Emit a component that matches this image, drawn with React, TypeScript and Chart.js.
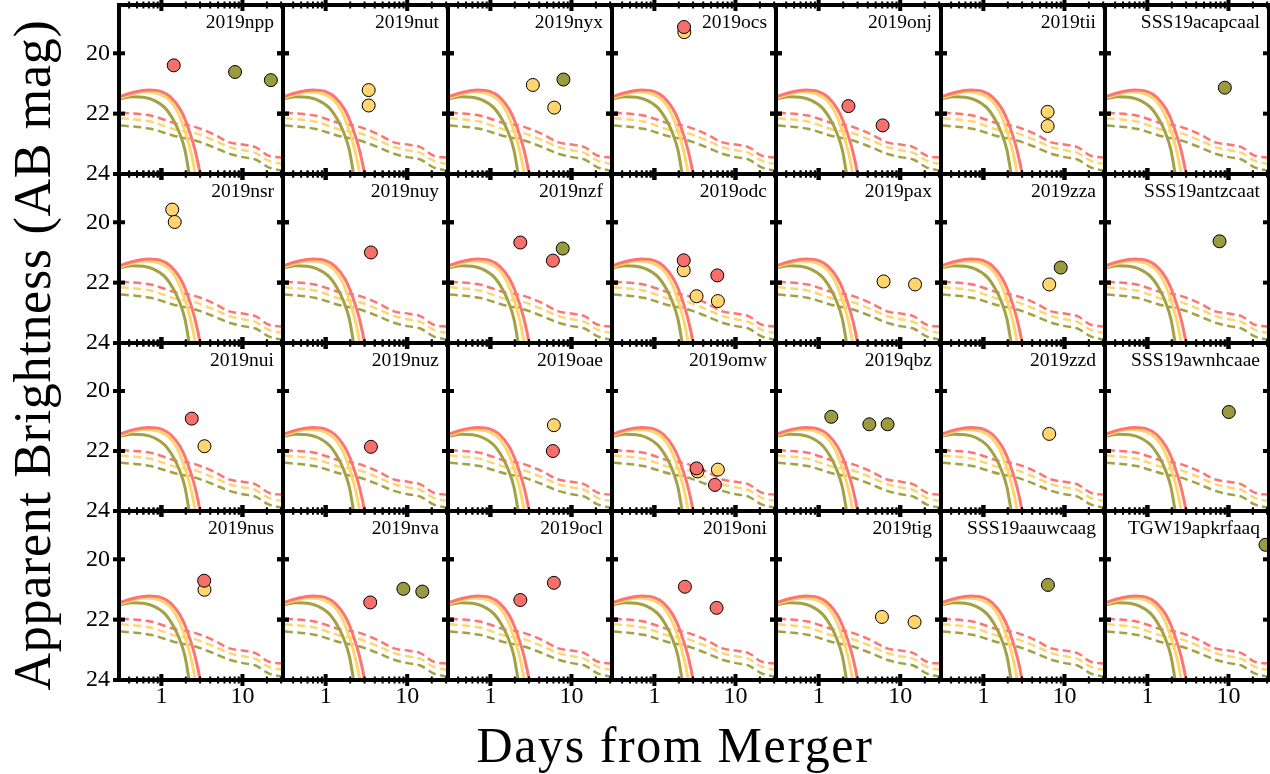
import React, { useEffect, useRef } from 'react';
import { Chart, registerables } from 'chart.js';

Chart.register(...registerables);

// Panel names, row by row
const NAMES = [
  '2019npp', '2019nut', '2019nyx', '2019ocs', '2019onj', '2019tii', 'SSS19acapcaal',
  '2019nsr', '2019nuy', '2019nzf', '2019odc', '2019pax', '2019zza', 'SSS19antzcaat',
  '2019nui', '2019nuz', '2019oae', '2019omw', '2019qbz', '2019zzd', 'SSS19awnhcaae',
  '2019nus', '2019nva', '2019ocl', '2019oni', '2019tig', 'SSS19aauwcaag', 'TGW19apkrfaaq',
];

// Detections per panel (days from merger, AB mag)
const RED_DAYS = [
  [1.42], [], [], [2.32], [2.32, 6.08], [], [],
  [], [3.59], [2.34, 5.9], [2.3, 5.97], [], [], [],
  [2.37], [3.59], [5.9], [3.31, 5.58], [], [], [],
  [3.37], [3.52], [2.34, 6.07], [2.38, 5.85], [], [], [],
];
const RED_MAGS = [
  [20.4], [], [], [19.13], [21.75, 22.39], [], [],
  [], [21.0], [20.67, 21.27], [21.26, 21.76], [], [], [],
  [20.92], [21.86], [22.0], [22.58, 23.13], [], [], [],
  [20.71], [21.43], [21.35, 20.78], [20.91, 21.61], [], [], [],
];
const YELLOW_DAYS = [
  [], [3.37, 3.37], [3.34, 6.13], [2.34], [], [6.2, 6.2], [],
  [1.36, 1.46], [], [], [2.3, 3.31, 6.07], [6.25, 15.2], [6.49], [],
  [3.4], [], [6.07], [3.4, 6.07], [], [6.49], [],
  [3.4], [], [], [], [5.97, 15.0], [], [],
];
const YELLOW_MAGS = [
  [], [21.22, 21.73], [21.05, 21.8], [19.3], [], [21.94, 22.41], [],
  [19.58, 19.99], [], [], [21.59, 22.45, 22.61], [21.96, 22.06], [22.06], [],
  [21.84], [], [21.14], [22.68, 22.62], [], [21.43], [],
  [21.01], [], [], [], [21.91, 22.08], [], [],
];
const OLIVE_DAYS = [
  [8.1, 22.4], [], [7.96], [], [], [], [9.02],
  [], [], [7.8], [], [], [9.0], [7.76],
  [], [], [], [], [1.43, 4.18, 7.0], [], [10.1],
  [], [8.97, 15.3], [], [], [], [6.25], [28.6],
];
const OLIVE_MAGS = [
  [20.62, 20.89], [], [20.87], [], [], [], [21.14],
  [], [], [20.87], [], [], [21.5], [20.63],
  [], [], [], [], [20.86, 21.11, 21.11], [], [20.7],
  [], [20.98, 21.07], [], [], [], [20.85], [19.52],
];

// Model light curves shown in every panel
const SOLID_RED_DAYS = [0.316, 0.47, 0.7, 1.0, 1.3, 1.7, 2.0, 2.3, 2.65, 3.0, 3.3];
const SOLID_RED_MAGS = [21.42, 21.28, 21.22, 21.27, 21.45, 21.85, 22.25, 22.72, 23.3, 24.0, 24.8];
const SOLID_YELLOW_DAYS = [0.316, 0.47, 0.65, 0.95, 1.25, 1.55, 1.8, 2.05, 2.35, 2.62, 2.9];
const SOLID_YELLOW_MAGS = [21.47, 21.33, 21.28, 21.35, 21.55, 21.9, 22.3, 22.75, 23.35, 24.0, 24.7];
const SOLID_OLIVE_DAYS = [0.316, 0.43, 0.6, 0.8, 1.1, 1.4, 1.65, 1.95, 2.2, 2.4];
const SOLID_OLIVE_MAGS = [21.5, 21.44, 21.46, 21.55, 21.8, 22.2, 22.6, 23.2, 24.0, 24.6];

const DASHED_DAYS = [0.316, 0.73, 1.55, 2.46, 4.3, 6.9, 10.5, 14.5, 21, 32];
const DASHED_RED_MAGS = [21.97, 22.06, 22.33, 22.42, 22.67, 22.95, 23.03, 23.11, 23.39, 23.46];
const DASHED_YELLOW_MAGS = [22.15, 22.26, 22.54, 22.63, 22.87, 23.11, 23.22, 23.3, 23.56, 23.68];
const DASHED_OLIVE_MAGS = [22.39, 22.5, 22.76, 22.87, 23.1, 23.33, 23.45, 23.52, 23.78, 23.9];

// Axis ticks
const X_TICKS = [0.4, 0.5, 0.6, 0.7, 0.8, 0.9, 1, 2, 3, 4, 5, 6, 7, 8, 9, 10, 20, 30];
const X_MAJOR = [1, 10];
const Y_TICKS = [20, 22, 24];

const RED_FILL = '#F76F6D';
const YELLOW_FILL = '#FED56E';
const OLIVE_FILL = '#9A9A3E';
const RED_LINE = '#FF7373';
const YELLOW_LINE = '#FFD66E';
const OLIVE_LINE = '#A2A244';

const FONT = "'Liberation Serif', 'Times New Roman', serif";

const COLS = 7;
const ROWS = 4;
const GRID_LEFT = 119;
const GRID_TOP = 5;
const CELL_W = 164.3;
const CELL_H = 168.75;
const ML = 50;
const MR = 12;
const MT = 12;
const MB = 40;

const pairs = (xs: number[], ys: number[]) => xs.map((x, i) => ({ x, y: ys[i] }));

const framePlugin = {
  id: 'panelFrame',
  afterDraw(chart: any) {
    const { ctx, chartArea: a } = chart;
    const xs = chart.scales.x;
    const ys = chart.scales.y;
    const seg = (x0: number, y0: number, x1: number, y1: number) => {
      ctx.beginPath();
      ctx.moveTo(x0, y0);
      ctx.lineTo(x1, y1);
      ctx.stroke();
    };
    ctx.save();
    ctx.strokeStyle = '#000';
    ctx.lineCap = 'butt';
    ctx.lineWidth = 4;
    ctx.strokeRect(a.left, a.top, a.right - a.left, a.bottom - a.top);
    for (const t of xs.ticks) {
      const px = xs.getPixelForValue(t.value);
      const major = X_MAJOR.includes(t.value);
      const len = major ? 6 : 3.5;
      ctx.lineWidth = major ? 4 : 2;
      seg(px, a.top - len, px, a.top + len);
      seg(px, a.bottom - len, px, a.bottom + len);
    }
    ctx.lineWidth = 4;
    for (const t of ys.ticks) {
      const py = ys.getPixelForValue(t.value);
      seg(a.left - 6, py, a.left + 6, py);
      seg(a.right - 6, py, a.right + 6, py);
    }
    ctx.restore();
  },
};

function Panel({ index }: { index: number }) {
  const ref = useRef<HTMLCanvasElement | null>(null);
  const r = Math.floor(index / COLS);
  const c = index % COLS;
  const x0 = Math.round(GRID_LEFT + c * CELL_W);
  const x1 = Math.round(GRID_LEFT + (c + 1) * CELL_W);
  const y0 = Math.round(GRID_TOP + r * CELL_H);
  const y1 = Math.round(GRID_TOP + (r + 1) * CELL_H);
  const w = x1 - x0 + ML + MR;
  const h = y1 - y0 + MT + MB;

  useEffect(() => {
    if (!ref.current) return;
    const scatter = (data: any[], fill: string, order: number) => ({
      data,
      backgroundColor: fill,
      borderColor: '#000',
      borderWidth: 1,
      pointRadius: 6.5,
      showLine: false,
      clip: false,
      order,
    });
    const curve = (data: any[], color: string, dashed: boolean, order: number) => ({
      data,
      borderColor: color,
      borderWidth: dashed ? 2.5 : 3,
      borderDash: dashed ? [8, 4.5] : [],
      pointRadius: 0,
      showLine: true,
      cubicInterpolationMode: 'monotone',
      order,
    });
    const tickFont = { family: FONT, size: 24 };
    const chart = new Chart(ref.current, {
      type: 'scatter',
      data: {
        datasets: [
          scatter(pairs(RED_DAYS[index], RED_MAGS[index]), RED_FILL, 0),
          scatter(pairs(YELLOW_DAYS[index], YELLOW_MAGS[index]), YELLOW_FILL, 1),
          scatter(pairs(OLIVE_DAYS[index], OLIVE_MAGS[index]), OLIVE_FILL, 2),
          curve(pairs(SOLID_RED_DAYS, SOLID_RED_MAGS), RED_LINE, false, 3),
          curve(pairs(SOLID_YELLOW_DAYS, SOLID_YELLOW_MAGS), YELLOW_LINE, false, 4),
          curve(pairs(SOLID_OLIVE_DAYS, SOLID_OLIVE_MAGS), OLIVE_LINE, false, 5),
          curve(pairs(DASHED_DAYS, DASHED_RED_MAGS), RED_LINE, true, 6),
          curve(pairs(DASHED_DAYS, DASHED_YELLOW_MAGS), YELLOW_LINE, true, 7),
          curve(pairs(DASHED_DAYS, DASHED_OLIVE_MAGS), OLIVE_LINE, true, 8),
        ] as any,
      },
      options: {
        responsive: false,
        animation: false,
        events: [],
        layout: { padding: { left: 0, top: MT, right: MR, bottom: 0 } },
        plugins: { legend: { display: false }, tooltip: { enabled: false } },
        scales: {
          x: {
            type: 'logarithmic',
            min: Math.pow(10, -0.5),
            max: Math.pow(10, 1.5),
            position: 'bottom',
            grid: { display: false, drawTicks: false },
            border: { display: false },
            ticks: {
              display: r === ROWS - 1,
              autoSkip: false,
              maxRotation: 0,
              padding: 2,
              color: '#000',
              font: tickFont,
              callback: (v: any) => (X_MAJOR.includes(Number(v)) ? String(v) : ''),
            },
            afterBuildTicks: (s: any) => {
              s.ticks = X_TICKS.map((v) => ({ value: v }));
            },
            afterFit: (s: any) => {
              s.height = MB;
              s.paddingLeft = 0;
              s.paddingRight = 0;
            },
          },
          y: {
            type: 'linear',
            min: 18.4,
            max: 24,
            reverse: true,
            grid: { display: false, drawTicks: false },
            border: { display: false },
            ticks: {
              display: c === 0,
              padding: 9,
              color: '#000',
              font: tickFont,
              callback: (v: any) => String(v),
            },
            afterBuildTicks: (s: any) => {
              s.ticks = Y_TICKS.map((v) => ({ value: v }));
            },
            afterFit: (s: any) => {
              s.width = ML;
              s.paddingTop = 0;
              s.paddingBottom = 0;
            },
          },
        },
      } as any,
      plugins: [framePlugin],
    });
    return () => chart.destroy();
  }, [index]);

  return (
    <>
      <canvas
        ref={ref}
        width={w}
        height={h}
        style={{ position: 'absolute', left: x0 - ML, top: y0 - MT, width: w, height: h }}
      />
      <div
        style={{
          position: 'absolute',
          right: 1270 - x1 + 9,
          top: y0 + 7,
          fontFamily: FONT,
          fontSize: 19.5,
          lineHeight: 1,
          whiteSpace: 'nowrap',
          color: '#000',
        }}
      >
        {NAMES[index]}
      </div>
    </>
  );
}

export default function App() {
  return (
    <div
      style={{
        position: 'absolute',
        left: 0,
        top: 0,
        width: 1270,
        height: 774,
        overflow: 'hidden',
        background: '#fff',
      }}
    >
      {NAMES.map((_, i) => (
        <Panel key={i} index={i} />
      ))}
      <div
        style={{
          position: 'absolute',
          left: 675,
          top: 720,
          transform: 'translateX(-50%)',
          fontFamily: FONT,
          fontSize: 50,
          letterSpacing: 1.6,
          lineHeight: 1,
          whiteSpace: 'nowrap',
          color: '#000',
        }}
      >
        Days from Merger
      </div>
      <div
        style={{
          position: 'absolute',
          left: 33,
          top: 355,
          transform: 'translate(-50%, -50%) rotate(-90deg)',
          fontFamily: FONT,
          fontSize: 52,
          letterSpacing: 0.7,
          lineHeight: 1,
          whiteSpace: 'nowrap',
          color: '#000',
        }}
      >
        Apparent Brightness (AB mag)
      </div>
    </div>
  );
}
